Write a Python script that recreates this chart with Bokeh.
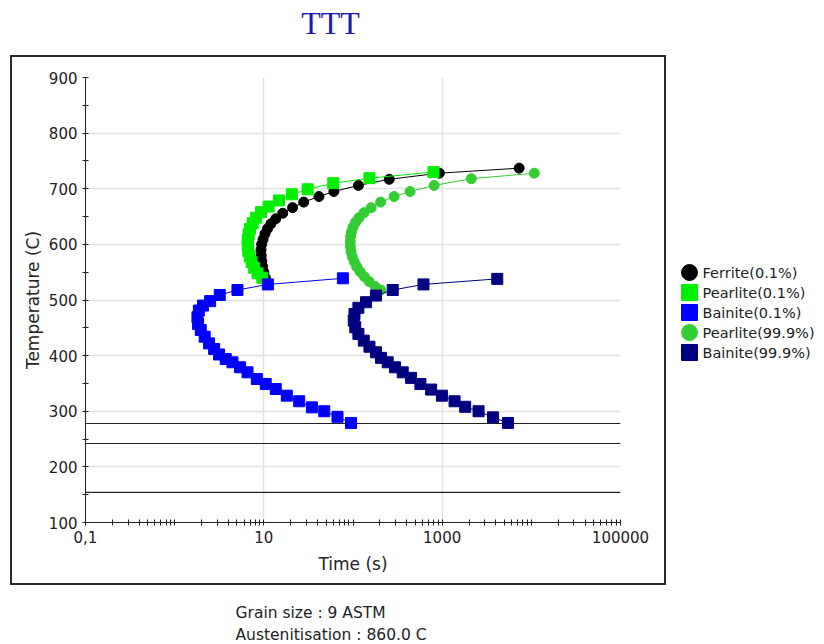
from bokeh.plotting import figure
from bokeh.models import FixedTicker, Span, Range1d
from bokeh.layouts import row, column
from bokeh.core.properties import value
from bokeh.embed import file_html
from bokeh.resources import INLINE

# ---------------- data ----------------
ferrite_time = [7300, 930, 255, 115, 61, 41.5, 28, 21, 16.3, 13.6, 12.0, 11.0, 10.3, 9.8, 9.45, 9.3, 9.35, 9.5, 9.7, 10.0, 10.4]
ferrite_temp = [737, 728, 717, 706, 695, 686, 676, 666, 656, 646, 637, 628, 619, 609, 600, 590, 580, 570, 560, 550, 540]

pearlite1_time = [800, 153, 60, 31, 20.6, 14.8, 11.3, 9.3, 8.2, 7.5, 7.0, 6.75, 6.6, 6.6, 6.7, 6.95, 7.3, 7.8, 8.5, 9.6]
pearlite1_temp = [730, 719, 710, 699, 690, 679, 668, 658, 648, 638, 628, 618, 608, 598, 588, 578, 568, 558, 548, 540]

bainite1_time = [77, 11.1, 5.06, 3.2, 2.5, 2.08, 1.87, 1.80, 1.83, 1.96, 2.17, 2.43, 2.77, 3.15, 3.74, 4.45,
                 5.42, 6.56, 8.34, 10.5, 13.6, 18.1, 24.9, 34.6, 47.6, 67, 95]
bainite1_temp = [539, 528, 518, 509, 498, 490, 481, 469, 457, 446, 434, 422, 412, 402, 394, 388,
                 379, 370, 358, 349, 340, 328, 318, 307, 300, 290, 279]

pearlite2_time = [10800, 2120, 813, 437, 289, 204, 160, 133, 117, 107, 100, 96, 94, 93, 93.5, 95, 98, 103,
                  110, 120, 134, 152, 178, 205]
pearlite2_temp = [728, 718, 706, 695, 686, 676, 666, 657, 648, 640, 631, 622, 614, 605, 596, 587, 578, 569,
                  560, 551, 542, 533, 524, 518]

bainite2_time = [4150, 617, 279, 181, 140, 115, 104, 102, 106, 115, 132, 153, 181, 206, 245, 296, 361, 448,
                 570, 752, 993, 1377, 1811, 2560, 3720, 5470]
bainite2_temp = [538, 528, 518, 508, 496, 486, 475, 463, 451, 439, 427, 416, 406, 396, 388, 379, 370, 360,
                 349, 339, 328, 318, 308, 300, 289, 279]

martensite_temps = [278, 242, 154]

series_names = ["Ferrite(0.1%)", "Pearlite(0.1%)", "Bainite(0.1%)", "Pearlite(99.9%)", "Bainite(99.9%)"]
series_colors = ["#000000", "#00f000", "#0000ff", "#33cc33", "#000080"]
series_markers = ["circle", "square", "square", "circle", "square"]

x_major_ticks = [0.1, 10, 1000, 100000]
x_tick_labels = ["0,1", "10", "1000", "100000"]
y_major_ticks = [100, 200, 300, 400, 500, 600, 700, 800, 900]
y_minor_ticks = [150, 250, 350, 450, 550, 650, 750, 850]

title_text = "TTT"
info_lines = ["Grain size : 9 ASTM", "Austenitisation : 860.0 C"]

FONT = "DejaVu Sans"
TOP_H = 48                 # title strip height
MID_H = 590 - TOP_H        # chart row height
BOT_H = 644 - 590          # information strip height
MAIN_W = 666
LEG_W = 824 - MAIN_W


def blank(width, height, xr, yr):
    f = figure(width=width, height=height, x_range=xr, y_range=yr, output_backend="svg",
               toolbar_location=None, x_axis_location=None, y_axis_location=None, min_border=0)
    f.outline_line_color = None
    f.grid.visible = False
    f.background_fill_color = None
    f.border_fill_color = None
    return f


# ---------------- title strip ----------------
tt = blank(824, TOP_H, Range1d(0, 824), Range1d(TOP_H, 0))
tt.text([330], [22], text=[title_text], text_font=value("Liberation Serif"), text_font_size="32px",
        text_color="#1c1cac", text_align="center", text_baseline="middle")

# ---------------- main chart ----------------
p = figure(width=MAIN_W, height=MID_H, x_axis_type="log", x_range=(0.1, 100000), y_range=(100, 900),
           output_backend="svg", toolbar_location=None,
           min_border_left=85, min_border_right=MAIN_W - 620,
           min_border_top=77 - TOP_H, min_border_bottom=590 - 522)
p.outline_line_color = None
p.background_fill_color = "white"
p.border_fill_color = None

# outer frame box (page x 10..665, y 56..584) drawn as element background lines
p.styles = {
    "background-color": "white",
    "background-image": ", ".join(["linear-gradient(#2a2a2a, #2a2a2a)"] * 4),
    "background-repeat": "no-repeat",
    "background-position": "10px %dpx, 10px %dpx, 10px %dpx, 664px %dpx" % (55 - TOP_H, 583 - TOP_H, 55 - TOP_H, 55 - TOP_H),
    "background-size": "656px 2px, 656px 2px, 2px 530px, 2px 530px",
}

x_minor = []
for d in [0.1, 1, 10, 100, 1000, 10000]:
    for m in range(1, 10):
        v = round(d * m, 6)
        if v not in x_major_ticks:
            x_minor.append(v)

xa = p.xaxis[0]
ya = p.yaxis[0]
xa.ticker = FixedTicker(ticks=x_major_ticks, minor_ticks=x_minor)
xa.major_label_overrides = {float(t): lab for t, lab in zip(x_major_ticks, x_tick_labels)}
ya.ticker = FixedTicker(ticks=y_major_ticks, minor_ticks=y_minor_ticks)
xa.axis_label = "Time (s)"
ya.axis_label = "Temperature (C)"

for ax in (xa, ya):
    ax.axis_line_color = "#222222"
    ax.major_tick_line_color = "#222222"
    ax.minor_tick_line_color = "#222222"
    ax.major_tick_in = 3
    ax.major_tick_out = 3
    ax.minor_tick_in = 3
    ax.minor_tick_out = 3
    ax.major_label_text_font = FONT
    ax.major_label_text_font_size = "15px"
    ax.major_label_text_color = "#222222"
    ax.major_label_standoff = 5
    ax.axis_label_text_font = FONT
    ax.axis_label_text_font_size = "17px"
    ax.axis_label_text_font_style = "normal"
    ax.axis_label_text_color = "#222222"
xa.axis_label_standoff = 8
ya.axis_label_standoff = 3

p.xgrid.ticker = FixedTicker(ticks=[10, 1000])
p.ygrid.ticker = FixedTicker(ticks=y_major_ticks[1:])
for g in (p.xgrid, p.ygrid):
    g.grid_line_color = "#e2e2e2"
    g.grid_line_width = 1.5

for t in martensite_temps:
    p.add_layout(Span(location=t, dimension="width", line_color="#222222", line_width=1.2, level="underlay"))

data = [(ferrite_time, ferrite_temp), (pearlite1_time, pearlite1_temp), (bainite1_time, bainite1_temp),
        (pearlite2_time, pearlite2_temp), (bainite2_time, bainite2_temp)]

for (tx, ty), col, mk in zip(data, series_colors, series_markers):
    p.line(tx, ty, line_color=col, line_width=1)
    p.scatter(tx, ty, marker=mk, size=10 if mk == "circle" else 11, fill_color=col, line_color=col)

# ---------------- legend strip (its frame lines up with the chart frame: page y 77..522) ----------------
lg = blank(LEG_W, MID_H, Range1d(0, LEG_W), Range1d(522, 77))
n = len(series_names)
row_y = [272 + 20 * i for i in range(n)]
lg.scatter([23] * n, row_y, marker=series_markers, size=16, fill_color=series_colors, line_color=series_colors)
lg.text([36] * n, row_y, text=series_names, text_font=value(FONT), text_font_size="14.5px",
        text_color="#222222", text_baseline="middle", text_align="left")

# ---------------- information strip ----------------
bt = blank(824, BOT_H, Range1d(0, 824), Range1d(BOT_H, 0))
bt.text([235] * len(info_lines), [22 + 22 * i for i in range(len(info_lines))], text=info_lines,
        text_font=value(FONT), text_font_size="15.5px", text_color="#222222",
        text_baseline="middle", text_align="left")

layout = column(tt, row(p, lg), bt)
open("out.html", "w").write(file_html(layout, INLINE))
